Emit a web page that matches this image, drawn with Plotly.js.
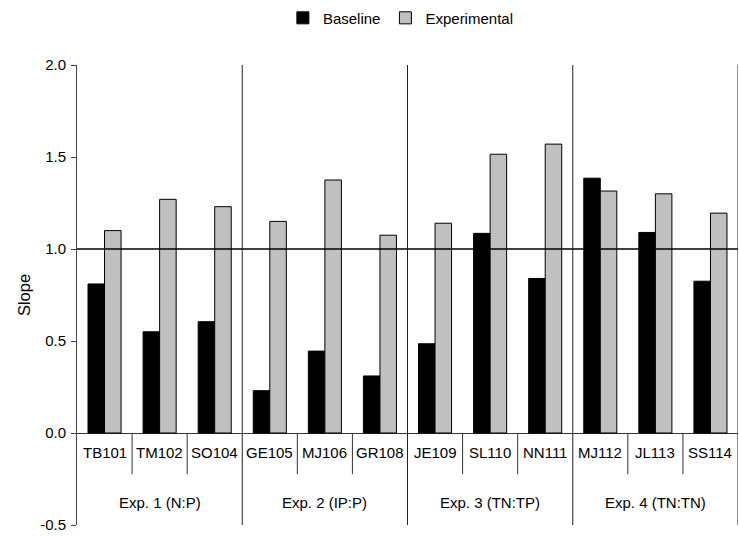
<!DOCTYPE html>
<html>
<head>
<meta charset="utf-8">
<script src="https://cdn.plot.ly/plotly-3.0.1.min.js"></script>
<style>html,body{margin:0;padding:0;background:#fff;}#chart{width:739px;height:538px;}</style>
</head>
<body>
<div id="chart"></div>
<script>
const categories = ["TB101","TM102","SO104","GE105","MJ106","GR108","JE109","SL110","NN111","MJ112","JL113","SS114"];
const groupLabels = ["Exp. 1 (N:P)","Exp. 2 (IP:P)","Exp. 3 (TN:TP)","Exp. 4 (TN:TN)"];
const groupSizes = [3,3,3,3];
const baseline = [0.81,0.55,0.605,0.23,0.445,0.31,0.485,1.085,0.84,1.385,1.09,0.825];
const experimental = [1.10,1.27,1.23,1.15,1.375,1.075,1.14,1.515,1.57,1.315,1.30,1.195];
const yTicks = [-0.5,0.0,0.5,1.0,1.5,2.0];
const refLine = 1.0;

const FONT = "Liberation Sans, Arial, sans-serif";
const FS = 15;

const traces = [
  {type:'bar', name:'Baseline', x:categories, y:baseline,
   marker:{color:'#000000', line:{color:'#000000', width:1}}},
  {type:'bar', name:'Experimental', x:categories, y:experimental,
   marker:{color:'#c0c0c0', line:{color:'#000000', width:1}}}
];

const shapes = [];
const annotations = [];
shapes.push({type:'line', xref:'paper', yref:'y', x0:0, x1:1, y0:refLine, y1:refLine,
  line:{color:'#000', width:1.5}, layer:'above'});
let start = 0;
groupSizes.forEach((n, g) => {
  const end = start + n;
  shapes.push({type:'line', xref:'x', yref:'paper', x0:end-0.5, x1:end-0.5, y0:0, y1:1,
    line:{color:'#222', width:1}, layer:'above'});
  for (let k = start+1; k < end; k++) {
    shapes.push({type:'line', xref:'x', yref:'y', x0:k-0.5, x1:k-0.5, y0:0, y1:-0.224,
      line:{color:'#333', width:1}, layer:'above'});
  }
  annotations.push({xref:'x', yref:'y', x:(start+end-1)/2, y:-0.378, text:groupLabels[g],
    showarrow:false, font:{family:FONT, size:FS, color:'#000'}, xanchor:'center', yanchor:'middle'});
  start = end;
});
categories.forEach((c, i) => {
  annotations.push({xref:'x', yref:'y', x:i, y:-0.106, text:c, showarrow:false,
    font:{family:FONT, size:FS, color:'#000'}, xanchor:'center', yanchor:'middle'});
});

const layout = {
  width:739, height:538,
  margin:{l:77, r:1, t:65, b:13, pad:0},
  paper_bgcolor:'#fff', plot_bgcolor:'#fff',
  font:{family:FONT, size:FS, color:'#000'},
  barmode:'group', bargap:0.4, bargroupgap:0,
  showlegend:true,
  legend:{orientation:'h', x:0.49, xanchor:'center', y:1.102, yanchor:'middle',
    font:{family:FONT, size:FS, color:'#000'}, itemwidth:30, tracegroupgap:0, bgcolor:'rgba(0,0,0,0)'},
  xaxis:{type:'category', range:[-0.5, categories.length-0.5], showticklabels:false,
    ticks:'', showline:false, showgrid:false, zeroline:false, fixedrange:true},
  yaxis:{range:[-0.5, 2.0], tickvals:yTicks, ticktext:yTicks.map(v=>v.toFixed(1)),
    ticks:'outside', ticklen:5, tickwidth:1, tickcolor:'#444', ticklabelstandoff:2,
    showline:true, linecolor:'#444', linewidth:1, showgrid:false,
    zeroline:true, zerolinecolor:'#333', zerolinewidth:1,
    tickfont:{family:FONT, size:FS, color:'#000'},
    title:{text:'Slope', font:{family:FONT, size:16.5, color:'#000'}, standoff:5}},
  shapes:shapes, annotations:annotations
};

Plotly.newPlot('chart', traces, layout, {displayModeBar:false, staticPlot:true});
</script>
</body>
</html>
